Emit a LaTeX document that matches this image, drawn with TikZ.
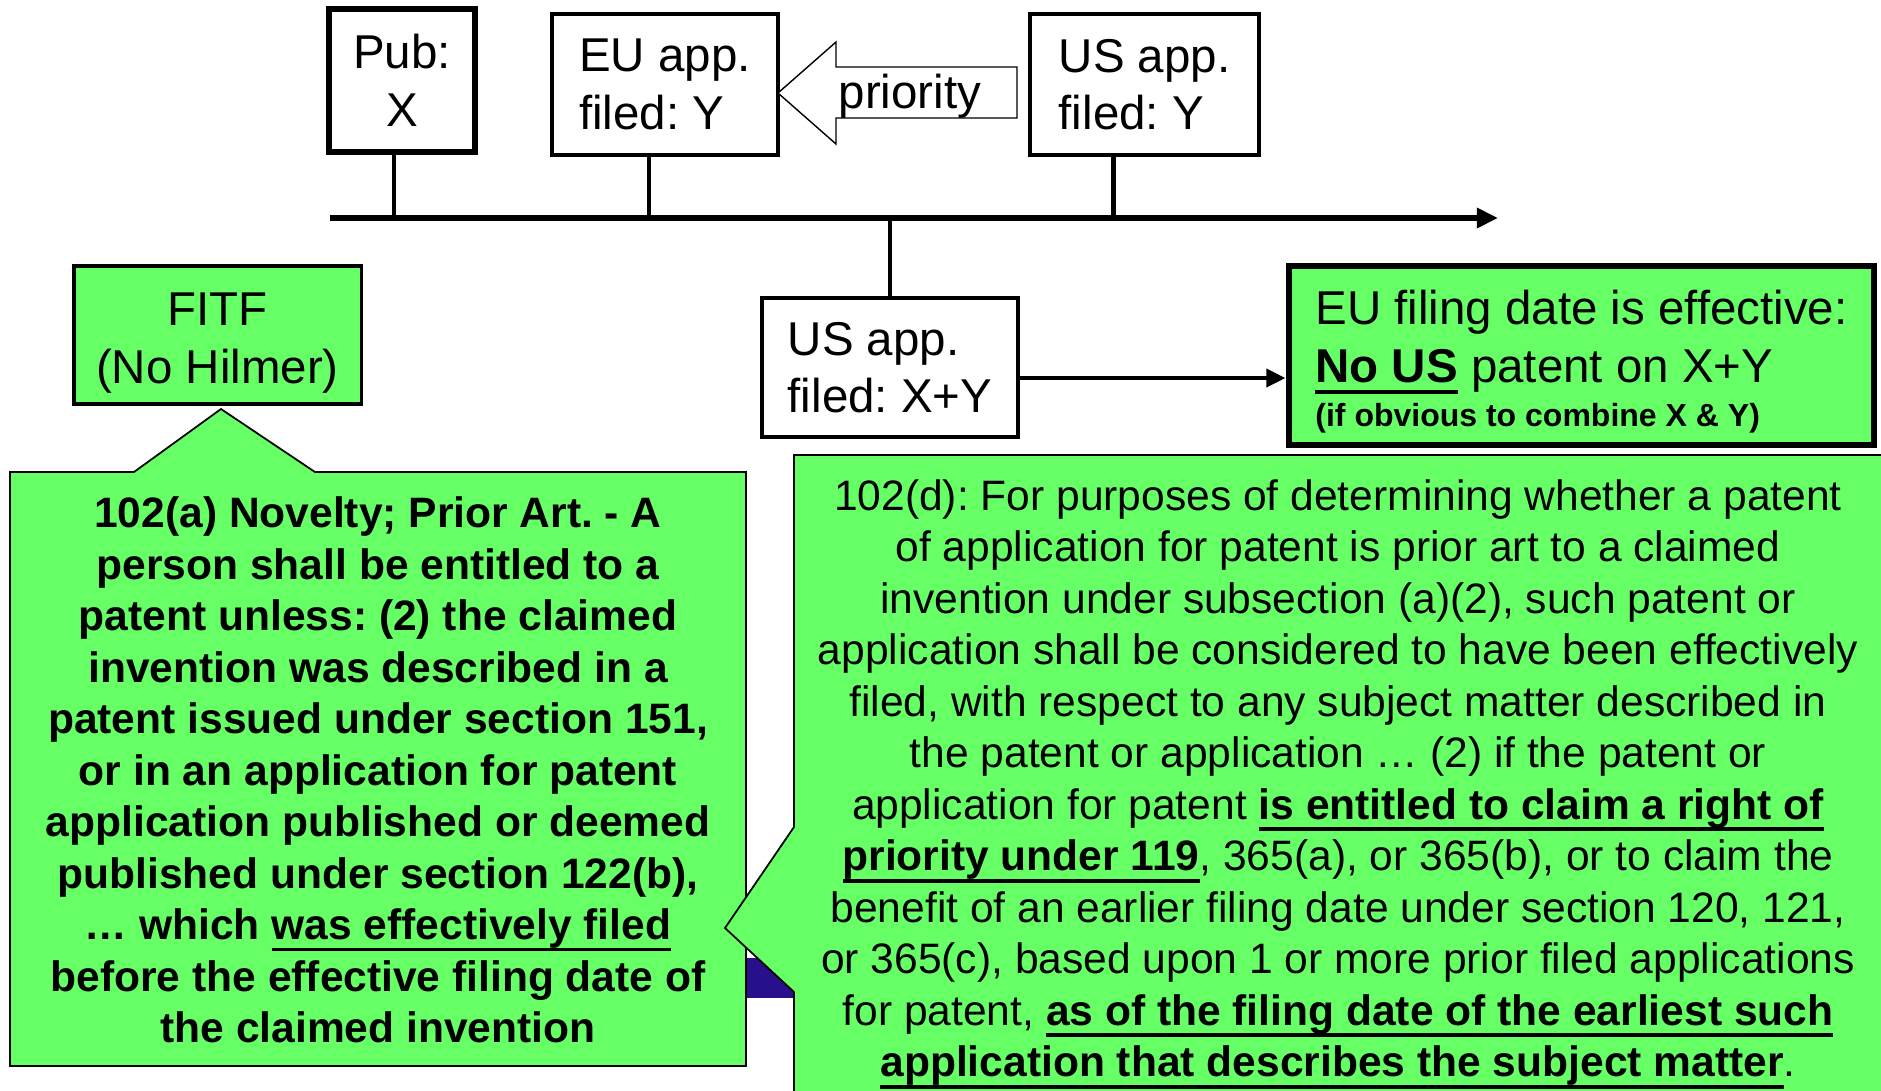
\documentclass[tikz,border=0pt]{standalone}
\usepackage{fontspec}
\setmainfont{Liberation Sans}
\usetikzlibrary{arrows.meta}
\definecolor{lawgreen}{RGB}{102,255,102}
\definecolor{hiddenblue}{RGB}{40,16,140}
\newsavebox\lawbox
\newcommand\lawul[1]{\sbox\lawbox{#1}\rlap{\rule[-3.3pt]{\wd\lawbox}{1.1pt}}\usebox\lawbox}
\frenchspacing

\begin{document}
\begin{tikzpicture}[x=0.01cm, y=-0.01cm,
  datebox/.style={draw, line width=1pt, fill=white, inner sep=0pt, align=left,
    font={\fontsize{13.5}{16.4}\selectfont}},
  greenbox/.style={datebox, fill=lawgreen},
  stem/.style={line width=1.2pt},
  callout/.style={draw, line width=0.5pt, fill=lawgreen},
  lawtext/.style={align=center, inner sep=0pt,
    font={\fontsize{12.1}{14.65}\selectfont}}]
  \def\tip{{Triangle[length=6pt,width=5.5pt]}}

  % Page
  \useasboundingbox (0,0) rectangle (1881,1090);
  \clip (0,0) rectangle (1881,1090);

  % Hidden bar behind the callouts
  \fill[hiddenblue] (700,958) rectangle (850,998);

  % Callouts
  \draw[callout] (10,472) -- (134,472) -- (221,409) -- (315,472) -- (746,472)
    -- (746,1066) -- (10,1066) -- cycle;
  \draw[callout] (794,455) -- (1950,455) -- (1950,1150) -- (794,1150)
    -- (794,992) -- (725,928) -- (794,827) -- cycle;

  \node[lawtext, font={\fontsize{12.1}{14.65}\selectfont\bfseries}] (lawa) at (378,770)
    {102(a) Novelty; Prior Art. - A\\
     person shall be entitled to a\\
     patent unless: (2) the claimed\\
     invention was described in a\\
     patent issued under section 151,\\
     or in an application for patent\\
     application published or deemed\\
     published under section 122(b),\\
     … which \lawul{was effectively filed}\\
     before the effective filing date of\\
     the claimed invention};

  \node[lawtext] (lawd) at (1338,784)
    {102(d): For purposes of determining whether a patent\\
     of application for patent is prior art to a claimed\\
     invention under subsection (a)(2), such patent or\\
     application shall be considered to have been effectively\\
     filed, with respect to any subject matter described in\\
     the patent or application … (2) if the patent or\\
     application for patent \lawul{\textbf{is entitled to claim a right of}}\\
     \lawul{\textbf{priority under 119}}, 365(a), or 365(b), or to claim the\\
     benefit of an earlier filing date under section 120, 121,\\
     or 365(c), based upon 1 or more prior filed applications\\
     for patent, \lawul{\textbf{as of the filing date of the earliest such}}\\
     \lawul{\textbf{application that describes the subject matter}}.};

  % Boxes
  \node[datebox, line width=1.5pt, align=center, minimum width=1.46cm, minimum height=1.43cm]
    (pub) at (402,80.5) {Pub:\\X};
  \node[datebox, minimum width=2.26cm, minimum height=1.41cm]
    (euapp) at (665,84.5) {EU app.\\filed: Y};
  \node[datebox, minimum width=2.29cm, minimum height=1.41cm]
    (usapp) at (1144.5,84.5) {US app.\\filed: Y};
  \node[datebox, minimum width=2.56cm, minimum height=1.39cm]
    (usxy) at (890,367.5) {US app.\\filed: X+Y};
  \node[greenbox, line width=0.9pt, align=center, minimum width=2.87cm, minimum height=1.38cm]
    (fitf) at (217.5,335) {\rule{0pt}{13.7pt}FITF\\(No Hilmer)};
  \node[greenbox, line width=1.8pt, minimum width=5.85cm, minimum height=1.79cm]
    (eufile) at (1581.5,355.5)
    {\rule{0pt}{13.3pt}EU filing date is effective:\\
     \lawul{\textbf{No US}} patent on X+Y\\[-4pt]
     {\fontsize{9.1}{11}\selectfont\bfseries (if obvious to combine X \& Y)}};

  % Priority arrow
  \draw[line width=0.4pt, fill=white] (778,93) -- (836,42) -- (836,67) -- (1017,67)
    -- (1017,118) -- (836,118) -- (836,144) -- cycle;
  \node[font={\fontsize{13.5}{16.4}\selectfont}, inner sep=0pt] (prio) at (910,96) {priority};

  % Time line
  \coordinate (tlstart) at (330,218);
  \coordinate (tlend) at (1498,218);
  \draw[line width=1.6pt, -\tip] (tlstart) -- (tlend);

  \foreach \n/\dx in {pub/-8, euapp/-16, usapp/-31}{
    \path ([xshift=\dx*0.01cm]\n.south) coordinate (\n-foot);
    \draw[stem] (\n-foot) -- (\n-foot |- tlstart);
  }
  \draw[stem] (usxy.north) -- (usxy.north |- tlstart);

  % Effect
  \coordinate (effy) at (0,378);
  \draw[line width=1.4pt, -{Triangle[length=5.5pt,width=5pt]}] (usxy.east |- effy) -- (eufile.west |- effy);
\end{tikzpicture}
\end{document}
